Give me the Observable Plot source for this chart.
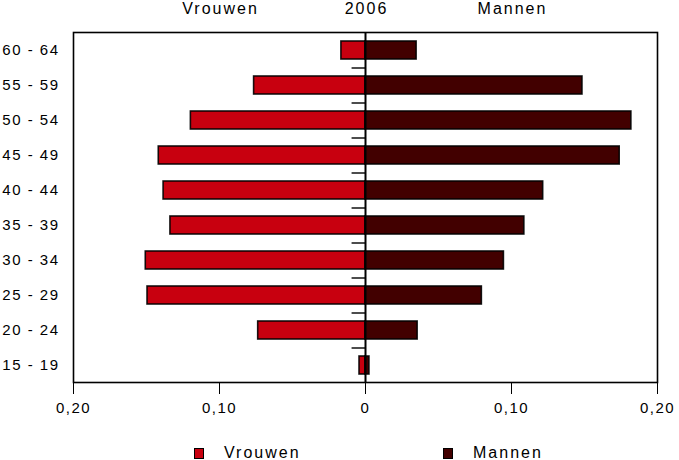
<!DOCTYPE html>
<html>
<head>
<meta charset="utf-8">
<script src="https://cdn.jsdelivr.net/npm/d3@7"></script>
<script src="https://cdn.jsdelivr.net/npm/@observablehq/plot@0.6"></script>
<style>
  html, body { margin: 0; padding: 0; background: #fff; }
  #wrap { position: relative; width: 679px; height: 460px; font-family: "Liberation Sans", Arial, sans-serif; }
  #wrap svg text { letter-spacing: 1.5px; }
  #wrap svg text.hdr { letter-spacing: 2px; }
  .legend { position: absolute; top: 444px; left: 0; width: 679px; height: 17px; font-size: 16px; letter-spacing: 2px; color: #000; }
  .legend .item { position: absolute; display: flex; align-items: center; }
  .legend .sw { width: 8px; height: 9px; border: 1.5px solid #000; margin-right: 20px; }
</style>
</head>
<body>
<div id="wrap"></div>
<script>
const ageGroups = ["60 - 64", "55 - 59", "50 - 54", "45 - 49", "40 - 44", "35 - 39", "30 - 34", "25 - 29", "20 - 24", "15 - 19"];
const vrouwen = [0.0165, 0.0763, 0.1196, 0.1416, 0.1383, 0.1336, 0.1505, 0.1493, 0.0735, 0.0041];
const mannen  = [0.0350, 0.1486, 0.1821, 0.1741, 0.1217, 0.1088, 0.0948, 0.0797, 0.0357, 0.0027];
const seriesNames = ["Vrouwen", "Mannen"];
const seriesColors = ["#c8000f", "#420000"];
const headerLabels = ["Vrouwen", "2006", "Mannen"];
const headerPos = [-0.1, 0, 0.1];
const xTicks = [-0.2, -0.1, 0, 0.1, 0.2];

const rows = [];
ageGroups.forEach((a, i) => {
  rows.push({age: a, sex: seriesNames[0], value: -vrouwen[i]});
  rows.push({age: a, sex: seriesNames[1], value: mannen[i]});
});
const headers = headerLabels.map((t, i) => ({t, x: headerPos[i]}));
const fmt = d => d === 0 ? "0" : Math.abs(d).toFixed(2).replace(".", ",");

const chart = Plot.plot({
  width: 679,
  height: 460,
  marginTop: 32,
  marginBottom: 78,
  marginLeft: 73,
  marginRight: 22,
  style: {fontFamily: "'Liberation Sans', Arial, sans-serif", fontSize: "15px", color: "#000", background: "#fff"},
  x: {domain: [-0.2, 0.2]},
  y: {domain: ageGroups, paddingInner: 0.5, paddingOuter: 0.25},
  color: {domain: seriesNames, range: seriesColors},
  marks: [
    Plot.barX(rows, {x: "value", y: "age", fill: "sex", stroke: "#000", strokeWidth: 1.6, strokeOpacity: 0.9}),
    Plot.ruleY(ageGroups.slice(1), {y: d => d, x1: -0.0092, x2: 0, stroke: "#000", strokeWidth: 1.4, dy: -17.5}),
    Plot.ruleX([0], {stroke: "#000", strokeWidth: 2}),
    Plot.frame({stroke: "#000", strokeWidth: 1.6}),
    Plot.axisX({ticks: xTicks, tickSize: 12, tickPadding: 8, tickFormat: fmt, fontSize: 15, label: null}),
    Plot.axisY({tickSize: 0, tickPadding: 14, fontSize: 15, label: null}),
    Plot.text(headers, {x: "x", text: "t", frameAnchor: "top", dy: -24, dx: 1, lineAnchor: "middle", fontSize: 16, fill: "#000", className: "hdr"})
  ]
});
const wrap = document.getElementById("wrap");
wrap.appendChild(chart);
// header class for letter spacing
chart.querySelectorAll("g").forEach(g => {
  if (g.getAttribute("class") && g.getAttribute("class").includes("hdr")) g.querySelectorAll("text").forEach(t => t.classList.add("hdr"));
});

const legend = document.createElement("div");
legend.className = "legend";
const legendX = [194, 443];
seriesNames.forEach((n, i) => {
  const it = document.createElement("div");
  it.className = "item";
  it.style.left = legendX[i] + "px";
  const sw = document.createElement("span");
  sw.className = "sw";
  sw.style.background = seriesColors[i];
  const lb = document.createElement("span");
  lb.textContent = n;
  it.appendChild(sw); it.appendChild(lb);
  legend.appendChild(it);
});
wrap.appendChild(legend);
</script>
</body>
</html>
